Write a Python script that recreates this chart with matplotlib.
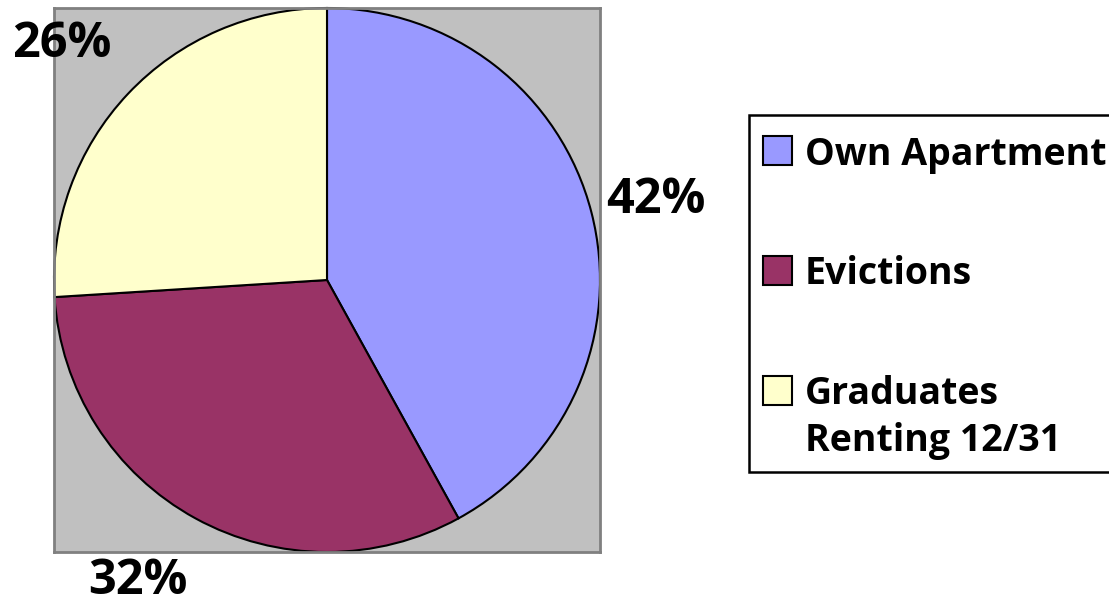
import matplotlib
matplotlib.use("Agg")
import matplotlib.pyplot as plt
from matplotlib.patches import Rectangle

plt.rcParams['font.family'] = ['Open Sans', 'DejaVu Sans']

categories = ["Own Apartment", "Evictions", "Graduates\nRenting 12/31"]
shares = [42, 32, 26]
colors = ["#9999FF", "#993366", "#FFFFCC"]

# where the percent labels sit (data coords of the pie axes, baseline)
label_pos = [(1.205, 0.246), (-0.692, -1.154), (-0.971, 0.820)]

fig = plt.figure(figsize=(11.09, 6.05), dpi=100)

# pie area (grey plot box)
ax = fig.add_axes([54 / 1109, 53 / 605, 546 / 1109, 544 / 605])
ax.set_facecolor("#C0C0C0")

wedges, texts = ax.pie(
    shares, colors=colors, startangle=90, counterclock=False, radius=1,
    wedgeprops=dict(edgecolor="black", linewidth=1.5), frame=True)
ax.set_xlim(-1, 1)
ax.set_ylim(-1, 1)
ax.set_aspect("auto")
ax.set_xticks([])
ax.set_yticks([])
for s in ax.spines.values():
    s.set_color("#808080")
    s.set_linewidth(2)

for v, (x, y) in zip(shares, label_pos):
    ax.text(x, y, f"{v}%", fontsize=35, fontweight="bold", ha="center",
            va="baseline", clip_on=False)

# legend drawn in pixel space
lg = fig.add_axes([0, 0, 1, 1], facecolor="none")
lg.set_xlim(0, 1109)
lg.set_ylim(605, 0)
lg.axis("off")
lg.add_patch(Rectangle((749, 115), 400, 357, facecolor="white",
                       edgecolor="black", linewidth=1.8, zorder=1))
row_y = [150, 270, 390]
for name, col, y in zip(categories, colors, row_y):
    lg.add_patch(Rectangle((763, y - 14.5), 29, 29, facecolor=col,
                           edgecolor="black", linewidth=1.5, zorder=2))
    for i, line in enumerate(name.split("\n")):
        lg.text(805, y + 14.5 + i * 47, line, fontsize=27, fontweight="bold",
                va="baseline", ha="left", zorder=3)

fig.savefig("out.png", dpi=100)
